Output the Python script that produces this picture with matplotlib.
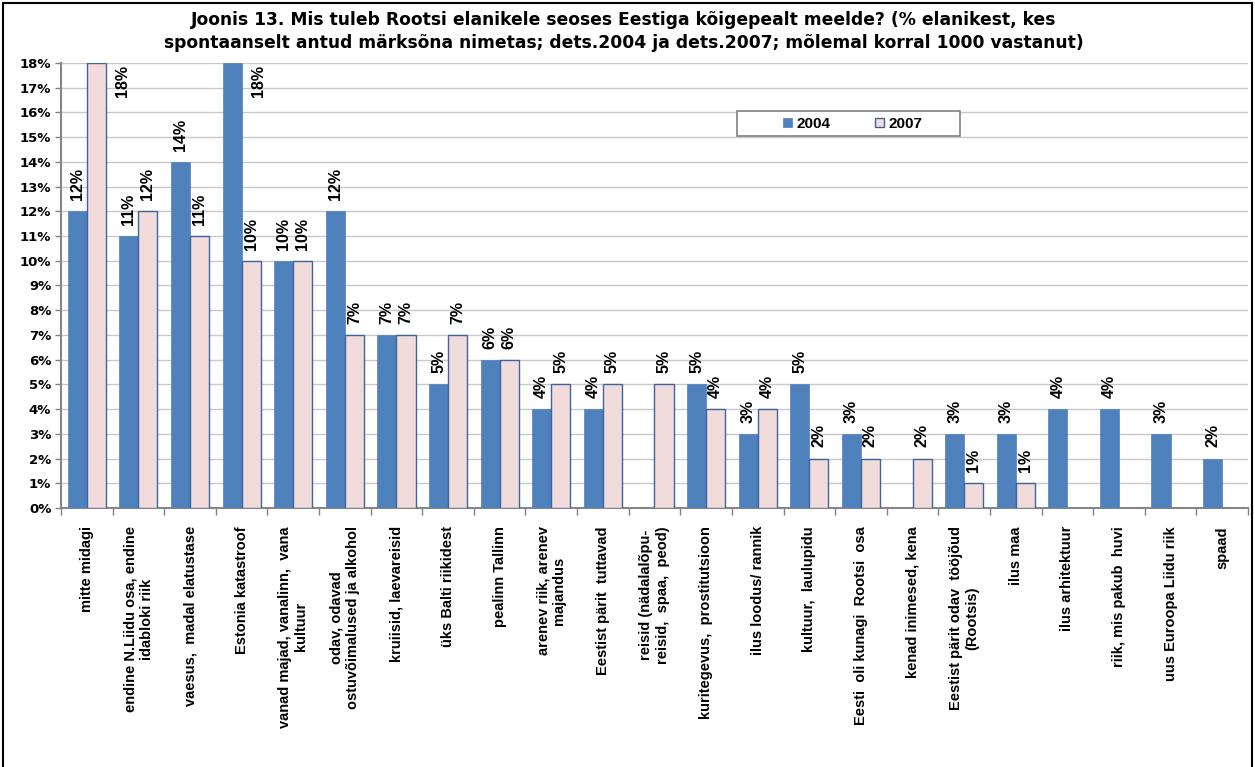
import numpy as np
import matplotlib
matplotlib.use("Agg")
import matplotlib.pyplot as plt
from matplotlib.patches import Rectangle

plt.rcParams['font.family'] = ['Liberation Sans', 'DejaVu Sans']

categories = [
    "mitte midagi",
    "endine N.Liidu osa, endine\nidabloki riik",
    "vaesus,  madal elatustase",
    "Estonia katastroof",
    "vanad majad, vanalinn,  vana\nkultuur",
    "odav, odavad\nostuvõimalused ja alkohol",
    "kruiisid, laevareisid",
    "üks Balti riikidest",
    "pealinn Tallinn",
    "arenev riik, arenev\nmajandus",
    "Eestist pärit  tuttavad",
    "reisid (nädalalõpu-\nreisid,  spaa,  peod)",
    "kuritegevus,  prostitutsioon",
    "ilus loodus/ rannik",
    "kultuur,  laulupidu",
    "Eesti  oli kunagi  Rootsi  osa",
    "kenad inimesed, kena",
    "Eestist pärit odav  tööjõud\n(Rootsis)",
    "ilus maa",
    "ilus arhitektuur",
    "riik, mis pakub  huvi",
    "uus Euroopa Liidu riik",
    "spaad",
]
series_names = ["2004", "2007"]
values_2004 = [12, 11, 14, 18, 10, 12, 7, 5, 6, 4, 4, np.nan, 5, 3, 5, 3, np.nan, 3, 3, 4, 4, 3, 2]
values_2007 = [18, 12, 11, 10, 10, 7, 7, 7, 6, 5, 5, 5, 4, 4, 2, 2, 2, 1, 1, np.nan, np.nan, np.nan, np.nan]
yticks = list(range(0, 19))

fig = plt.figure(figsize=(12.55, 7.67), dpi=100)
ax = fig.add_axes([0.0486, 0.3377, 0.9458, 0.5802])

n = len(categories)
x = np.arange(n)
w = 0.37
blue = "#4F81BD"
pink = "#F2DCDB"
edge = "#3B64A0"

b1 = ax.bar(x - w / 2, values_2004, w, color=blue, edgecolor=blue, linewidth=0.5,
            label=series_names[0], zorder=3)
b2 = ax.bar(x + w / 2, values_2007, w, color=pink, edgecolor=edge, linewidth=1.0,
            label=series_names[1], zorder=3)

ymax = 18
ax.set_ylim(0, ymax)
ax.set_xlim(-0.5, n - 0.5)
ax.set_yticks(yticks)
ax.set_yticklabels([f"{t}%" for t in yticks], fontsize=9.5, fontweight='bold',
                   family=['DejaVu Sans'])
ax.yaxis.grid(True, color="#C8C8C8", linewidth=1.0, zorder=0)
ax.set_axisbelow(True)

ax.set_xticks(x)
ax.set_xticklabels(categories, rotation=90, fontsize=10.5, fontweight='bold',
                   va='top', ha='center', multialignment='center')
ax.tick_params(axis='x', which='major', length=0, pad=13)
ax.set_xticks(np.arange(-0.5, n, 1), minor=True)
ax.tick_params(axis='x', which='minor', length=5, color="#808080", width=1)
ax.tick_params(axis='y', length=4, color="#808080", width=1, pad=3)

for s in ['top', 'right']:
    ax.spines[s].set_visible(False)
for s in ['left', 'bottom']:
    ax.spines[s].set_color("#868686")
    ax.spines[s].set_linewidth(1.5)

def label_bars(xs, vals):
    for xi, v in zip(xs, vals):
        if np.isnan(v):
            continue
        if v >= ymax:
            ax.text(xi + w * 1.38, ymax - 0.1, f"{int(v)}%", rotation=90, ha='center', va='top',
                    fontsize=11.5, fontweight='bold', zorder=5)
        else:
            ax.annotate(f"{int(v)}%", (xi, v), xytext=(0, 8), textcoords='offset points',
                        rotation=90, ha='center', va='bottom', fontsize=11.5,
                        fontweight='bold', zorder=5)

label_bars(x - w / 2, values_2004)
label_bars(x + w / 2, values_2007)

# legend box
fig.patches.append(Rectangle((737 / 1255, 1 - 136 / 767), 223 / 1255, 25 / 767,
                             transform=fig.transFigure, fill=True, facecolor='white',
                             edgecolor="#808080", linewidth=1.2, zorder=4))
leg = fig.legend(handles=[b1, b2], labels=series_names, loc='center',
                 bbox_to_anchor=(853 / 1255, 1 - 124 / 767), ncol=2, frameon=False,
                 prop={'weight': 'bold', 'size': 11}, handlelength=0.55, handleheight=0.55,
                 columnspacing=2.9, borderpad=0.2, handletextpad=0.35)
leg.set_zorder(6)

fig.text(0.497, 0.974, "Joonis 13. Mis tuleb Rootsi elanikele seoses Eestiga kõigepealt meelde? (% elanikest, kes",
         ha='center', va='center', fontsize=12.3, fontweight='bold', family=['DejaVu Sans'])
fig.text(0.497, 0.944, "spontaanselt antud märksõna nimetas; dets.2004 ja dets.2007; mõlemal korral 1000 vastanut)",
         ha='center', va='center', fontsize=12.3, fontweight='bold', family=['DejaVu Sans'])

fig.patches.append(Rectangle((0.002, -0.01), 0.996, 1.006, transform=fig.transFigure,
                             fill=False, edgecolor='black', linewidth=1.5))

fig.savefig("out.png", dpi=100)
